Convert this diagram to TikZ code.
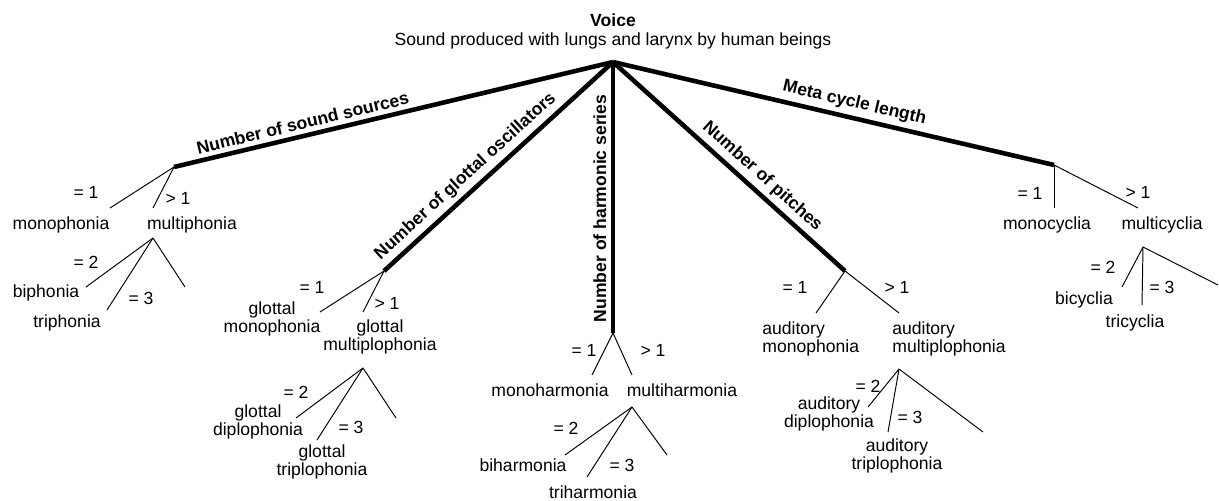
\documentclass[tikz,border=0pt]{standalone}
\usepackage{fontspec}
\setmainfont{Liberation Sans}
\usetikzlibrary{positioning}

\begin{document}
\begin{tikzpicture}[x=0.02cm,y=-0.02cm,
  trunk/.style={line width=2.6pt},
  twig/.style={line width=0.55pt},
  lab/.style={font=\fontsize{10}{10}\selectfont,inner sep=0pt,align=center},
  labl/.style={lab,align=left,anchor=west},
  axis/.style={font=\fontsize{10}{10}\selectfont\bfseries,sloped,above,inner sep=2.5pt}]
  \useasboundingbox (0,0) rectangle (1219,500);
  % heading
  \node[lab,font=\fontsize{10}{10}\selectfont\bfseries] (voice) at (613,20) {Voice};
  \node[lab] (def) at (613,41) {Sound produced with lungs and larynx by human beings};
  % criteria
  \coordinate (root) at (613,62);
  \coordinate (src) at (174,167);
  \coordinate (glot) at (384,271);
  \coordinate (harm) at (613,333);
  \coordinate (pitch) at (845,271);
  \coordinate (meta) at (1054,165);
  \draw[trunk] (src) -- node[axis,pos=0.3] {Number of sound sources} (root);
  \draw[trunk] (glot) -- node[axis,pos=0.4] {Number of glottal oscillators} (root);
  \draw[trunk] (harm) -- node[axis,pos=0.46] {Number of harmonic series} (root);
  \draw[trunk] (root) -- node[axis,pos=0.6] {Number of pitches} (pitch);
  \draw[trunk] (root) -- node[axis,pos=0.54] {Meta cycle length} (meta);
  % branches
  \coordinate (srcM) at (153,238);
  \coordinate (glotM) at (363,368);
  \coordinate (harmM) at (632,407);
  \coordinate (pitchM) at (899,369);
  \coordinate (metaM) at (1143,247);
  \foreach \from/\to/\p in {
    src/s1/{110,208}, src/s2/{153,208},
    srcM/s3/{86,287}, srcM/s4/{107,310}, srcM/s5/{185,287},
    glot/g1/{320,312}, glot/g2/{363,312},
    glotM/g3/{296,418}, glotM/g4/{317,440}, glotM/g5/{396,418},
    harm/h1/{592,375}, harm/h2/{632,375},
    harmM/h3/{565,455}, harmM/h4/{587,477}, harmM/h5/{667,455},
    pitch/p1/{816,313}, pitch/p2/{899,313},
    pitchM/p3/{868,407}, pitchM/p4/{888,432}, pitchM/p5/{983,432},
    meta/m1/{1054,208}, meta/m2/{1138,208},
    metaM/m3/{1122,287}, metaM/m4/{1142,305}, metaM/m5/{1218,285}}{
    \coordinate (\to) at (\p);
    \draw[twig] (\from) -- (\to);
  }
  % conditions
  \foreach \n/\p/\t in {
    cs1/{86,192}/{= 1}, cs2/{178,198}/{> 1}, cs3/{86,262}/{= 2}, cs4/{141,298}/{= 3},
    cg1/{312,287}/{= 1}, cg2/{387,303}/{> 1}, cg3/{296,392}/{= 2}, cg4/{351,427}/{= 3},
    ch1/{584,350}/{= 1}, ch2/{653,350}/{> 1}, ch3/{566,428}/{= 2}, ch4/{622,465}/{= 3},
    cp1/{795,287}/{= 1}, cp2/{897,287}/{> 1}, cp3/{868,386}/{= 2}, cp4/{910,417}/{= 3},
    cm1/{1030,193}/{= 1}, cm2/{1138,192}/{> 1}, cm3/{1103,267}/{= 2}, cm4/{1162,287}/{= 3}}
    \node[lab] (\n) at (\p) {\t};
  % classes
  \foreach \n/\p/\t in {
    monophonia/{61,225}/monophonia, multiphonia/{192,225}/multiphonia,
    biphonia/{46,293}/biphonia, triphonia/{67,323}/triphonia,
    gmono/{272,319}/{glottal\\monophonia}, gmulti/{380,337}/{glottal\\multiplophonia},
    gdi/{258,422}/{glottal\\diplophonia}, gtri/{322,462}/{glottal\\triplophonia},
    monoharmonia/{550,390}/monoharmonia, multiharmonia/{682,390}/multiharmonia,
    biharmonia/{523,465}/biharmonia, triharmonia/{593,492}/triharmonia,
    adi/{829,414}/{auditory\\diplophonia}, atri/{897,456}/{auditory\\triplophonia},
    monocyclia/{1047,225}/monocyclia, multicyclia/{1162,225}/multicyclia,
    bicyclia/{1084,300}/bicyclia, tricyclia/{1135,323}/tricyclia}
    \node[lab] (\n) at (\p) {\t};
  \node[labl] (amono) at (762,339) {auditory\\monophonia};
  \node[labl] (amulti) at (892,339) {auditory\\multiplophonia};
\end{tikzpicture}
\end{document}
